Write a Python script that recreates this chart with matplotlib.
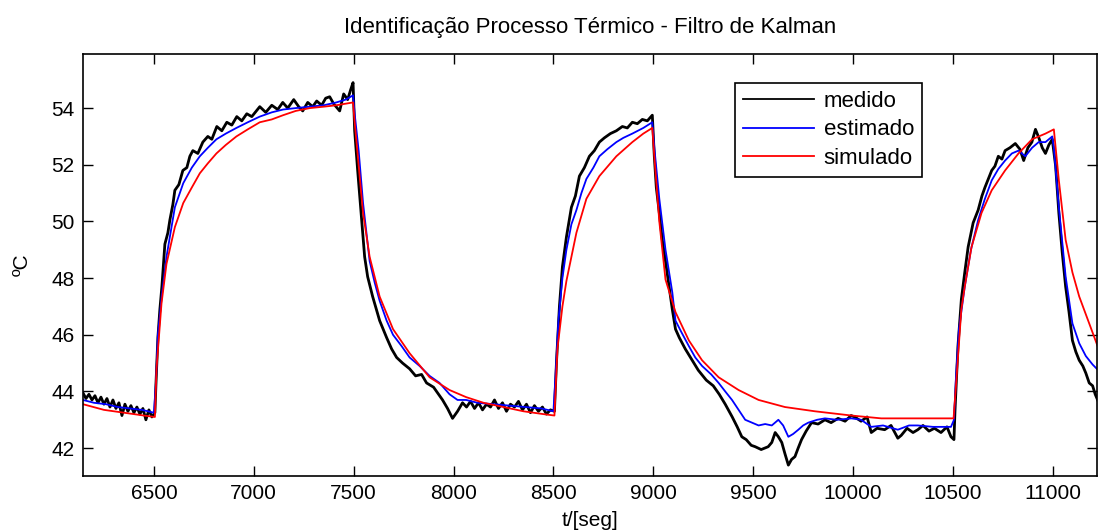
import matplotlib
matplotlib.use("Agg")
import matplotlib.pyplot as plt

plt.rcParams['font.family'] = ['Liberation Sans', 'DejaVu Sans']

# --------------------------
# dados
# --------------------------
# medido (com ruído)
t_med = [6145, 6160, 6175, 6190, 6205, 6220, 6235, 6250, 6265, 6280, 6295, 6310, 6325,
         6340, 6355, 6370, 6385, 6400, 6415, 6430, 6445, 6460, 6475, 6490, 6505,
         6510, 6520, 6530, 6540, 6555, 6570, 6580, 6595, 6605, 6625, 6645, 6665, 6680,
         6695, 6720, 6745, 6770, 6790, 6815, 6840, 6865, 6890, 6915, 6940, 6965, 6990,
         7030, 7060, 7090, 7120, 7145, 7170, 7200, 7225, 7245, 7270, 7295, 7315, 7340,
         7360, 7380, 7400, 7430, 7450, 7470, 7485, 7497,
         7505, 7520, 7540, 7555, 7570, 7595, 7630, 7665, 7690, 7715, 7745, 7780, 7810,
         7840, 7865, 7900, 7925, 7945, 7970, 7995, 8020, 8045, 8065,
         8085, 8105, 8125, 8145, 8165, 8185, 8205, 8225, 8245, 8265, 8285, 8305, 8325,
         8345, 8365, 8385, 8405, 8425, 8445, 8465, 8485, 8505,
         8515, 8530, 8545, 8565, 8590, 8610, 8630, 8655, 8680, 8705, 8730, 8755, 8785,
         8815, 8845, 8870, 8895, 8920, 8945, 8970, 8995,
         9005, 9015, 9030, 9045, 9065, 9095, 9111, 9130, 9160, 9195, 9225, 9265, 9300,
         9330, 9360, 9395, 9420, 9443, 9465, 9490, 9510, 9540, 9575, 9593, 9610, 9626,
         9643, 9659, 9676, 9692, 9709, 9725, 9742, 9765, 9792, 9825, 9859, 9890, 9925,
         9960, 9990, 10008, 10040, 10070, 10091, 10120, 10158, 10190, 10224, 10241, 10270,
         10300, 10324, 10350, 10380, 10407, 10440, 10470, 10490, 10505,
         10510, 10525, 10542, 10559, 10576, 10601, 10626, 10645, 10660, 10677, 10694,
         10710, 10727, 10745, 10761, 10785, 10812, 10835, 10854, 10875, 10895, 10913,
         10930, 10947, 10963, 10980, 10997,
         11014, 11030, 11047, 11064, 11081, 11098, 11115, 11132, 11150, 11165, 11182,
         11199, 11212, 11224]
y_med = [43.95, 43.75, 43.9, 43.7, 43.85, 43.6, 43.8, 43.55, 43.75, 43.45, 43.7, 43.4, 43.6,
         43.15, 43.55, 43.3, 43.5, 43.25, 43.45, 43.2, 43.4, 43.0, 43.35, 43.1, 43.25,
         44.2, 45.9, 46.9, 47.7, 49.2, 49.6, 50.05, 50.6, 51.1, 51.3, 51.8, 51.9, 52.3,
         52.5, 52.4, 52.8, 53.0, 52.9, 53.35, 53.2, 53.5, 53.4, 53.7, 53.55, 53.8, 53.7,
         54.05, 53.85, 54.1, 53.95, 54.2, 54.0, 54.3, 54.05, 53.9, 54.2, 54.05, 54.25, 54.1,
         54.35, 54.4, 54.15, 53.9, 54.5, 54.3, 54.65, 54.9,
         53.2, 51.8, 50.05, 48.75, 48.05, 47.35, 46.5, 45.9, 45.5, 45.2, 45.0, 44.8, 44.55,
         44.6, 44.3, 44.15, 43.9, 43.7, 43.4, 43.05, 43.3, 43.6, 43.45,
         43.65, 43.4, 43.6, 43.35, 43.55, 43.45, 43.7, 43.4, 43.6, 43.3, 43.55, 43.45, 43.65,
         43.35, 43.55, 43.25, 43.5, 43.3, 43.45, 43.2, 43.35, 43.3,
         45.0, 47.0, 48.4, 49.45, 50.5, 50.9, 51.6, 51.9, 52.3, 52.5, 52.8, 52.95, 53.1,
         53.2, 53.35, 53.3, 53.5, 53.45, 53.6, 53.55, 53.75,
         52.3, 51.2, 50.3, 49.35, 48.4, 46.9, 46.2, 45.9, 45.5, 45.1, 44.75, 44.4, 44.2,
         43.9, 43.55, 43.1, 42.75, 42.4, 42.3, 42.1, 42.05, 41.95, 42.05, 42.2, 42.55, 42.4,
         42.2, 41.8, 41.4, 41.6, 41.7, 42.0, 42.3, 42.6, 42.9, 42.85, 43.0, 42.9, 43.05,
         42.95, 43.15, 43.1, 42.95, 43.1, 42.55, 42.7, 42.65, 42.8, 42.35, 42.45, 42.7,
         42.55, 42.65, 42.8, 42.6, 42.7, 42.55, 42.75, 42.4, 42.3,
         43.3, 45.6, 47.25, 48.2, 49.1, 49.95, 50.4, 50.9, 51.2, 51.5, 51.8,
         51.95, 52.3, 52.2, 52.5, 52.6, 52.75, 52.55, 52.15, 52.6, 52.8, 53.25,
         52.95, 52.6, 52.4, 52.7, 52.9,
         51.95, 50.3, 48.9, 47.7, 46.8, 45.8, 45.4, 45.1, 44.9, 44.65, 44.3,
         44.2, 43.9, 43.7]

# estimado (Kalman)
t_est = [6145, 6200, 6260, 6320, 6380, 6440, 6500, 6510, 6520, 6540, 6563, 6605, 6647,
         6690, 6730, 6770, 6813, 6860, 6913, 6970, 7030, 7090, 7147, 7210, 7280, 7350,
         7413, 7460, 7497, 7505, 7525, 7547, 7580, 7605, 7630, 7665, 7697, 7740, 7780,
         7830, 7880, 7930, 7980, 8020, 8063, 8120, 8200, 8280, 8360, 8440, 8500, 8510,
         8525, 8545, 8565, 8590, 8615, 8640, 8665, 8700, 8730, 8770, 8815, 8850, 8895,
         8950, 8995, 9005, 9030, 9061, 9095, 9111, 9140, 9178, 9210, 9244, 9290, 9327,
         9360, 9394, 9427, 9460, 9493, 9527, 9560, 9593, 9626, 9650, 9676, 9700, 9726,
         9750, 9776, 9820, 9859, 9920, 9992, 10040, 10091, 10150, 10224, 10280, 10324,
         10400, 10490, 10505, 10515, 10530, 10559, 10590, 10626, 10660, 10694, 10727,
         10761, 10795, 10828, 10862, 10896, 10929, 10963, 10997, 11005, 11030, 11064,
         11098, 11132, 11165, 11199, 11220]
y_est = [43.7, 43.6, 43.55, 43.45, 43.4, 43.35, 43.25, 44.3, 46.0, 47.4, 48.75, 50.5, 51.35,
         51.9, 52.3, 52.6, 52.9, 53.1, 53.3, 53.5, 53.7, 53.85, 53.95, 54.0, 54.05, 54.1,
         54.2, 54.3, 54.45, 53.8, 52.5, 50.65, 48.6, 47.85, 47.2, 46.5, 46.0, 45.6, 45.2,
         44.9, 44.55, 44.3, 43.9, 43.7, 43.7, 43.6, 43.55, 43.5, 43.45, 43.4, 43.3, 44.5,
         46.5, 48.0, 49.0, 49.9, 50.4, 51.0, 51.5, 51.9, 52.3, 52.55, 52.8, 52.95, 53.1,
         53.3, 53.5, 52.6, 50.8, 49.0, 47.5, 46.5, 46.1, 45.6, 45.2, 44.9, 44.6, 44.3,
         44.0, 43.7, 43.35, 43.0, 42.9, 42.8, 42.85, 42.8, 43.0, 42.8, 42.4, 42.5, 42.65,
         42.8, 42.9, 43.0, 43.05, 43.0, 43.05, 43.0, 42.75, 42.8, 42.65, 42.8, 42.8,
         42.75, 42.75, 43.0, 44.5, 46.2, 47.7, 49.0, 50.05, 50.8, 51.45, 51.85,
         52.15, 52.4, 52.5, 52.3, 52.6, 52.8, 52.8, 53.0, 52.6, 50.5, 48.05,
         46.4, 45.7, 45.25, 44.95, 44.8]

# simulado (modelo)
t_sim = [6145, 6250, 6350, 6450, 6505, 6513, 6538, 6563, 6605, 6647, 6690, 6730, 6770,
         6813, 6860, 6913, 6970, 7030, 7090, 7147, 7210, 7280, 7350, 7413, 7497, 7505,
         7522, 7547, 7580, 7630, 7697, 7780, 7880, 7980, 8063, 8150, 8250, 8350, 8450,
         8505, 8520, 8545, 8565, 8615, 8665, 8730, 8815, 8895, 8950, 8995, 9005, 9030,
         9061, 9111, 9178, 9244, 9327, 9427, 9527, 9659, 9809, 9992, 10141, 10300, 10503,
         10517, 10542, 10559, 10593, 10643, 10694, 10761, 10828, 10896, 10963, 11005,
         11030, 11064, 11098, 11132, 11182, 11224]
y_sim = [43.55, 43.35, 43.25, 43.15, 43.1, 44.8, 47.1, 48.5, 49.8, 50.65, 51.2, 51.7, 52.05,
         52.4, 52.7, 53.0, 53.25, 53.5, 53.6, 53.75, 53.9, 54.0, 54.05, 54.1, 54.2, 53.5,
         52.2, 50.3, 48.75, 47.35, 46.2, 45.35, 44.5, 44.05, 43.8, 43.6, 43.45, 43.3, 43.2,
         43.15, 45.5, 47.0, 47.9, 49.6, 50.8, 51.6, 52.3, 52.8, 53.1, 53.3, 52.3, 50.0,
         47.95, 46.8, 45.8, 45.1, 44.5, 44.05, 43.7, 43.45, 43.3, 43.15, 43.05, 43.05, 43.05,
         44.4, 46.9, 47.7, 49.1, 50.3, 51.1, 51.8, 52.4, 52.9, 53.1, 53.25,
         51.45, 49.35, 48.2, 47.35, 46.4, 45.6]

x_ticks = [6500, 7000, 7500, 8000, 8500, 9000, 9500, 10000, 10500, 11000]
y_ticks = [42, 44, 46, 48, 50, 52, 54]

# --------------------------
# gráfico
# --------------------------
fig = plt.figure(figsize=(10.99, 5.32), dpi=100)
ax = fig.add_axes([0.0755, 0.106, 0.9225, 0.792])

ax.plot(t_med, y_med, color='black', lw=2.0, label='medido')
ax.plot(t_est, y_est, color='blue', lw=1.3, label='estimado')
ax.plot(t_sim, y_sim, color='red', lw=1.3, label='simulado')

ax.set_xlim(6145, 11220)
ax.set_ylim(41.03, 55.9)
ax.set_xticks(x_ticks)
ax.set_yticks(y_ticks)
ax.tick_params(direction='in', length=7, width=1, labelsize=15,
               top=True, right=True, pad=6)
for s in ax.spines.values():
    s.set_linewidth(1.2)

ax.set_title('Identificação Processo Térmico - Filtro de Kalman', fontsize=16, pad=15)
ax.set_xlabel('t/[seg]', fontsize=15, labelpad=6)
ax.set_ylabel('ºC', fontsize=15, labelpad=14)

leg = ax.legend(loc='upper left', bbox_to_anchor=(0.643, 0.932), borderaxespad=0,
                fontsize=16, handlelength=3.2, labelspacing=0.35, fancybox=False,
                framealpha=1, edgecolor='black', borderpad=0.35, handletextpad=0.45)
leg.get_frame().set_linewidth(1.2)
leg.get_lines()[0].set_linewidth(1.3)

fig.savefig('out.png', dpi=100)
